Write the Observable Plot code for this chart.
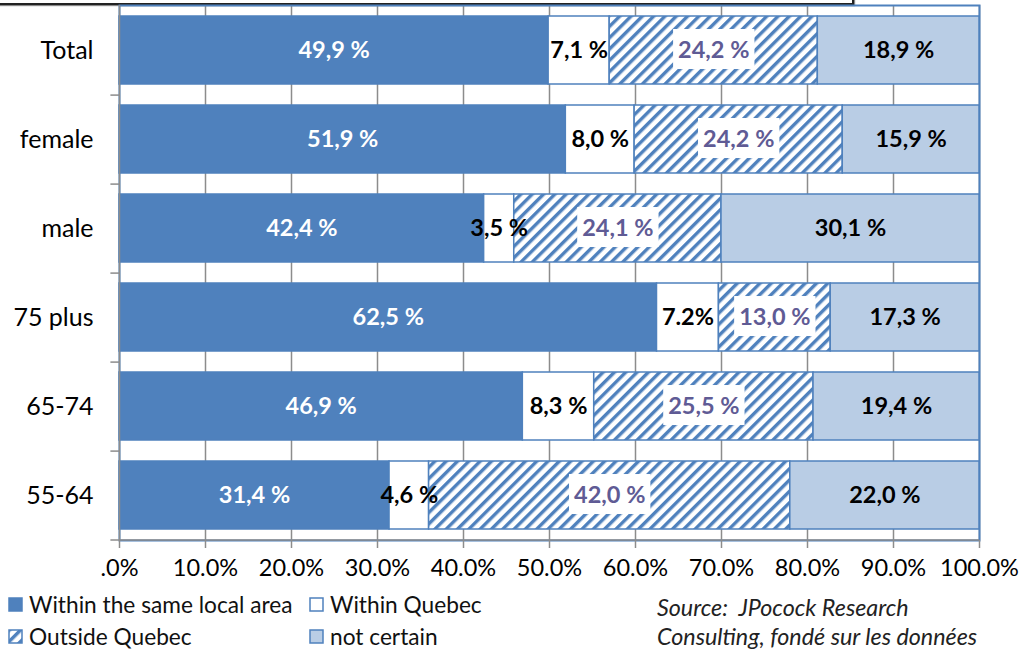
<!DOCTYPE html>
<html>
<head>
<meta charset="utf-8">
<script src="https://cdn.jsdelivr.net/npm/d3@7"></script>
<script src="https://cdn.jsdelivr.net/npm/@observablehq/plot@0.6"></script>
<style>
  html, body { margin: 0; padding: 0; background: white; }
  body { width: 1030px; height: 652px; position: relative; overflow: hidden; font-family: Lato, "Noto Sans", sans-serif; }
  #titlebox { position: absolute; left: -3px; top: -20px; width: 853px; height: 21px; border: 2px solid #222; box-shadow: 1px 1px 1px #888; }
  #chart { position: absolute; left: 0; top: 0; }
  .leg { position: absolute; font-size: 22.7px; color: #111; white-space: nowrap; display: flex; align-items: center; }
  .leg svg { margin-right: 6px; }
  .src { position: absolute; left: 657px; font-size: 23.3px; font-style: italic; color: #222; white-space: nowrap; }
</style>
</head>
<body>
<svg width="0" height="0" style="position:absolute">
  <defs>
    <pattern id="hatch" patternUnits="userSpaceOnUse" width="8" height="8" patternTransform="rotate(45)">
      <rect x="0" y="0" width="8" height="8" fill="white"></rect>
      <rect x="0" y="0" width="3.4" height="8" fill="#4f81bd"></rect>
    </pattern>
  </defs>
</svg>
<div id="titlebox"></div>
<div id="chart"></div>
<div id="legend"></div>
<div class="src" style="top:593px">Source:&nbsp; JPocock Research</div>
<div class="src" style="top:622px">Consulting, fondé sur les données</div>
<script>
// ---- data ----
const categories = ["Total", "female", "male", "75 plus", "65-74", "55-64"];
const series = ["Within the same local area", "Within Quebec", "Outside Quebec", "not certain"];
const sameLocalArea = [49.9, 51.9, 42.4, 62.5, 46.9, 31.4];
const withinQuebec = [7.1, 8.0, 3.5, 7.2, 8.3, 4.6];
const outsideQuebec = [24.2, 24.2, 24.1, 13.0, 25.5, 42.0];
const notCertain = [18.9, 15.9, 30.1, 17.3, 19.4, 22.0];
const xTicks = [0, 10, 20, 30, 40, 50, 60, 70, 80, 90, 100];
const labelOverrides = {"75 plus|Within Quebec": "7.2%"};

// ---- styles ----
const fills = ["#4f81bd", "#ffffff", "url(#hatch)", "#b9cde5"];
const labelColors = ["#ffffff", "#000000", "#5f5b95", "#000001"];
const blue = "#4f81bd";
const gray = "#8c8c8c";

const valuesBySeries = [sameLocalArea, withinQuebec, outsideQuebec, notCertain];
const rows = [];
categories.forEach((cat, ci) => {
  let acc = 0;
  series.forEach((s, si) => {
    const v = valuesBySeries[si][ci];
    const x1 = acc, x2 = Math.min(100, acc + v);
    acc += v;
    const key = cat + "|" + s;
    rows.push({cat, series: s, si, value: v, x1, x2, mid: (x1 + x2) / 2,
      label: labelOverrides[key] ?? (v.toFixed(1).replace(".", ",") + " %")});
  });
});

const marks = [
  Plot.gridX({ticks: xTicks.filter(t => t > 0), stroke: gray, strokeOpacity: 1, strokeWidth: 1.5}),
  Plot.frame({stroke: blue, strokeWidth: 2})
];
series.forEach((s, si) => {
  marks.push(Plot.barX(rows.filter(d => d.si === si), {
    x1: "x1", x2: "x2", y: "cat", fill: fills[si], stroke: blue, strokeWidth: 1.5
  }));
});
series.forEach((s, si) => {
  marks.push(Plot.text(rows.filter(d => d.si === si), {
    x: "mid", y: "cat", text: "label", fill: labelColors[si], fontWeight: "bold", fontSize: 23.5
  }));
});
marks.push(
  Plot.ruleX([0], {stroke: gray, strokeWidth: 1.5}),
  Plot.ruleY(categories, {y: d => d, x1: -1, x2: d => d === categories[categories.length - 1] ? 100 : 0, dy: 44.6, stroke: gray, strokeWidth: 1.5, clip: false}),
  Plot.axisX({anchor: "bottom", ticks: xTicks, tickFormat: d => d === 0 ? ".0%" : d.toFixed(1) + "%", tickSize: 8, tickPadding: 11, stroke: gray, strokeWidth: 1.5, fill: "#000", fontSize: 23.5, label: null}),
  Plot.axisY({anchor: "left", tickSize: 0, tickPadding: 26, fill: "#000", fontSize: 25, label: null})
);

const chart = Plot.plot({
  width: 1030, height: 590,
  marginLeft: 119, marginRight: 51, marginTop: 5, marginBottom: 50,
  style: {fontFamily: "Lato, 'Noto Sans', sans-serif", background: "transparent", overflow: "visible", color: "#000"},
  x: {domain: [0, 100]},
  y: {domain: categories, paddingInner: 0.236, paddingOuter: 0.118},
  marks
});
document.getElementById("chart").appendChild(chart);

// white boxes behind the labels on hatched segments
d3.select(chart).selectAll("g").filter(function() {
  return this.getAttribute("fill") === labelColors[2];
}).each(function() {
  const g = this;
  Array.from(g.querySelectorAll("text")).forEach(t => {
    const b = t.getBBox();
    const r = document.createElementNS("http://www.w3.org/2000/svg", "rect");
    r.setAttribute("x", b.x - 5);
    r.setAttribute("y", b.y - 6);
    r.setAttribute("width", b.width + 10);
    r.setAttribute("height", b.height + 12);
    r.setAttribute("fill", "white");
    if (t.getAttribute("transform")) r.setAttribute("transform", t.getAttribute("transform"));
    g.insertBefore(r, t);
  });
});

// ---- legend ----
const legendPos = [[8, 604], [309, 604], [8, 636], [309, 636]];
const legend = document.getElementById("legend");
series.forEach((s, si) => {
  const div = document.createElement("div");
  div.className = "leg";
  div.style.left = legendPos[si][0] + "px";
  div.style.top = (legendPos[si][1] - 14) + "px";
  div.style.height = "28px";
  div.innerHTML = `<svg width="15" height="15"><rect x="1" y="1" width="13" height="13" fill="${fills[si]}" stroke="${blue}" stroke-width="1.5"></rect></svg><span>${s}</span>`;
  legend.appendChild(div);
});
</script>
</body>
</html>
